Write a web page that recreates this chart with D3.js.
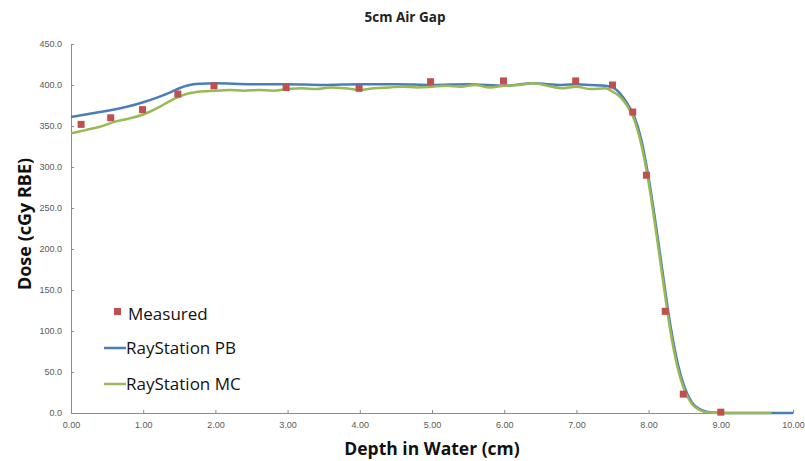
<!DOCTYPE html>
<html>
<head>
<meta charset="utf-8">
<script src="https://cdn.jsdelivr.net/npm/d3@7"></script>
<style>
  body { margin: 0; background: #fff; }
  svg { display: block; font-family: "Open Sans", "DejaVu Sans", sans-serif; }
  .axis path, .axis line { stroke: #8c8c8c; }
  .axis text { fill: #595959; font-size: 9px; }
</style>
</head>
<body>
<svg width="805" height="461"></svg>
<script>
// measured points [depth cm, dose cGy RBE]
var measured = [
  [0.14, 352], [0.55, 360], [0.99, 370], [1.48, 389], [1.98, 399],
  [2.98, 397], [3.99, 396], [4.98, 404], [5.99, 405], [6.99, 405],
  [7.50, 400], [7.78, 367], [7.97, 290], [8.23, 124], [8.48, 23], [9.00, 1]
];

// RayStation pencil beam
var pbCurve = [
  [0.0, 361], [0.2, 364], [0.4, 367], [0.6, 370], [0.8, 374], [1.0, 379],
  [1.2, 385], [1.4, 392], [1.5, 396], [1.6, 399], [1.7, 401], [1.8, 401.5],
  [2.0, 402], [2.5, 401], [3.0, 401], [3.5, 400], [4.0, 401], [4.5, 401],
  [5.0, 400], [5.5, 401], [6.0, 399], [6.4, 402], [6.8, 400], [7.0, 401],
  [7.2, 400], [7.4, 399], [7.5, 397], [7.6, 390], [7.7, 378], [7.8, 362],
  [7.9, 333], [8.0, 287], [8.1, 230], [8.2, 168], [8.3, 108], [8.4, 62],
  [8.5, 31], [8.6, 13], [8.7, 5], [8.8, 1.5], [8.9, 0.5], [9.0, 0], [10.0, 0]
];

// RayStation Monte Carlo
var mcCurve = [
  [0.0, 341], [0.2, 345], [0.4, 349], [0.6, 355], [0.8, 359], [1.0, 364],
  [1.2, 372], [1.4, 382], [1.5, 386], [1.6, 389], [1.8, 392], [2.0, 393],
  [2.2, 394], [2.4, 393], [2.6, 394], [2.8, 393], [3.0, 395], [3.2, 396],
  [3.4, 395], [3.6, 397], [3.8, 396], [4.0, 394], [4.2, 396], [4.4, 397],
  [4.6, 398], [4.8, 397], [5.0, 398], [5.2, 399], [5.4, 398], [5.6, 400],
  [5.8, 397], [6.0, 399], [6.2, 400], [6.4, 402], [6.6, 399], [6.8, 396],
  [7.0, 398], [7.2, 395], [7.4, 396], [7.5, 392], [7.6, 386], [7.7, 375],
  [7.8, 358], [7.9, 327], [8.0, 281], [8.1, 223], [8.2, 161], [8.3, 101],
  [8.4, 56], [8.5, 27], [8.6, 11], [8.7, 4], [8.8, 1], [9.0, 0], [9.7, 0]
];

var xTicks = [0, 1, 2, 3, 4, 5, 6, 7, 8, 9, 10];
var yTicks = [0, 50, 100, 150, 200, 250, 300, 350, 400, 450];
var legendNames = ['Measured', 'RayStation PB', 'RayStation MC'];

var colors = { measured: '#c0504d', pb: '#4a7ebb', mc: '#98b954' };

var svg = d3.select('svg');

var x = d3.scaleLinear().domain([0, 10]).range([71, 793]);
var y = d3.scaleLinear().domain([0, 450]).range([413, 44]);

// x axis
var xAxis = d3.axisBottom(x).tickValues(xTicks)
  .tickFormat(d3.format('.2f')).tickSizeInner(-3).tickSizeOuter(0).tickPadding(9);
svg.append('g').attr('class', 'axis')
  .attr('transform', 'translate(0,' + y(0) + ')')
  .call(xAxis);

// y axis
var yAxis = d3.axisLeft(y).tickValues(yTicks)
  .tickFormat(d3.format('.1f')).tickSizeInner(-3).tickSizeOuter(0).tickPadding(9);
svg.append('g').attr('class', 'axis')
  .attr('transform', 'translate(' + x(0) + ',0)')
  .call(yAxis);

var line = d3.line()
  .x(function(d){ return x(d[0]); })
  .y(function(d){ return y(d[1]); })
  .curve(d3.curveMonotoneX);

svg.append('path').datum(pbCurve)
  .attr('d', line).attr('fill', 'none')
  .attr('stroke', colors.pb).attr('stroke-width', 2.5);

svg.append('path').datum(mcCurve)
  .attr('d', line).attr('fill', 'none')
  .attr('stroke', colors.mc).attr('stroke-width', 2.5);

// measured squares
svg.selectAll('.pt').data(measured).enter()
  .append('rect').attr('class', 'pt')
  .attr('x', function(d){ return x(d[0]) - 3.5; })
  .attr('y', function(d){ return y(d[1]) - 3.5; })
  .attr('width', 7).attr('height', 7)
  .attr('fill', colors.measured);

// title
svg.append('text').attr('x', 405).attr('y', 22)
  .attr('text-anchor', 'middle').attr('font-size', 13.5).attr('font-weight', 'bold')
  .attr('fill', '#222').text('5cm Air Gap');

// axis titles
svg.append('text').attr('x', 432).attr('y', 455)
  .attr('text-anchor', 'middle').attr('font-size', 17.5).attr('font-weight', 'bold')
  .attr('fill', '#111').text('Depth in Water (cm)');

svg.append('text')
  .attr('transform', 'translate(31,224) rotate(-90)')
  .attr('text-anchor', 'middle').attr('font-size', 18).attr('font-weight', 'bold')
  .attr('fill', '#111').text('Dose (cGy RBE)');

// legend
var lg = svg.append('g');
lg.append('rect').attr('x', 114).attr('y', 308).attr('width', 7).attr('height', 7)
  .attr('fill', colors.measured);
lg.append('line').attr('x1', 104).attr('x2', 126).attr('y1', 348).attr('y2', 348)
  .attr('stroke', colors.pb).attr('stroke-width', 2.5);
lg.append('line').attr('x1', 104).attr('x2', 126).attr('y1', 384).attr('y2', 384)
  .attr('stroke', colors.mc).attr('stroke-width', 2.5);
var legendY = [320, 354, 390];
lg.selectAll('.lt').data(legendNames).enter()
  .append('text').attr('class', 'lt')
  .attr('x', function(d, i){ return i == 0 ? 128 : 126; })
  .attr('y', function(d, i){ return legendY[i]; })
  .attr('font-size', 17).attr('fill', '#111')
  .text(function(d){ return d; });
</script>
</body>
</html>
